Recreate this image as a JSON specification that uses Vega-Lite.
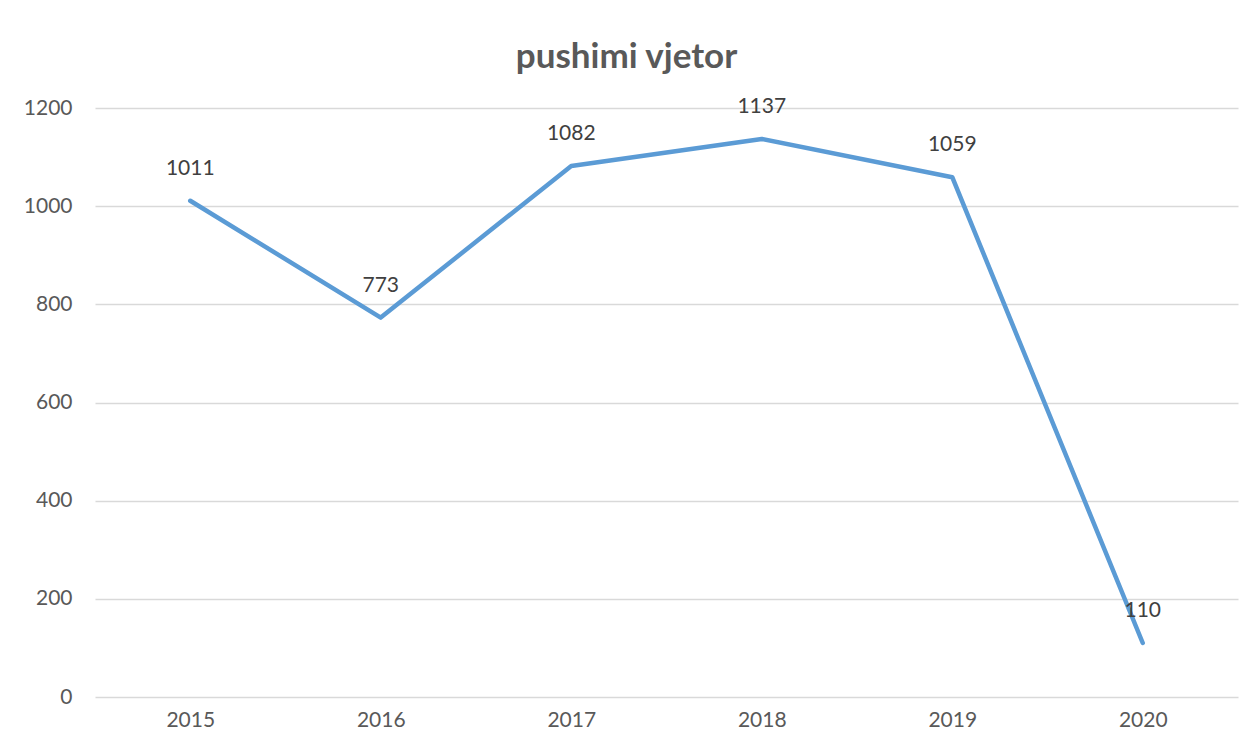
{
  "$schema": "https://vega.github.io/schema/vega-lite/v6.json",
  "autosize": {"type": "none"},
  "width": 1143,
  "height": 589,
  "padding": {"left": 95, "top": 108, "right": 19, "bottom": 56},
  "background": "white",
  "title": {
    "text": "pushimi vjetor",
    "font": "Lato",
    "fontSize": 35,
    "fontWeight": "bold",
    "color": "#595959",
    "anchor": "middle",
    "frame": "group",
    "dx": -40,
    "offset": 21
  },
  "data": {
    "values": [
      {"year": "2015", "value": 1011},
      {"year": "2016", "value": 773},
      {"year": "2017", "value": 1082},
      {"year": "2018", "value": 1137},
      {"year": "2019", "value": 1059},
      {"year": "2020", "value": 110}
    ]
  },
  "encoding": {
    "x": {
      "field": "year",
      "type": "ordinal",
      "scale": {"type": "point", "padding": 0.5},
      "axis": {
        "title": null,
        "labelAngle": 0,
        "ticks": false,
        "domain": false,
        "grid": false,
        "labelPadding": 12,
        "labelFont": "Lato",
        "labelFontSize": 21,
        "labelColor": "#595959"
      }
    },
    "y": {
      "field": "value",
      "type": "quantitative",
      "scale": {"domain": [0, 1200]},
      "axis": {
        "title": null,
        "values": [0, 200, 400, 600, 800, 1000, 1200],
        "format": "d",
        "ticks": false,
        "domain": false,
        "grid": true,
        "gridColor": "#d9d9d9",
        "gridWidth": 1.3,
        "labelPadding": 23,
        "labelFont": "Lato",
        "labelFontSize": 21,
        "labelColor": "#595959"
      }
    }
  },
  "layer": [
    {
      "mark": {"type": "line", "color": "#5B9BD5", "strokeWidth": 4.5, "strokeCap": "round", "strokeJoin": "round"}
    },
    {
      "mark": {"type": "text", "font": "Lato", "fontSize": 21, "color": "#404040", "baseline": "middle", "dy": -32},
      "encoding": {"text": {"field": "value", "type": "quantitative", "format": "d"}}
    }
  ],
  "config": {"view": {"stroke": null}}
}
